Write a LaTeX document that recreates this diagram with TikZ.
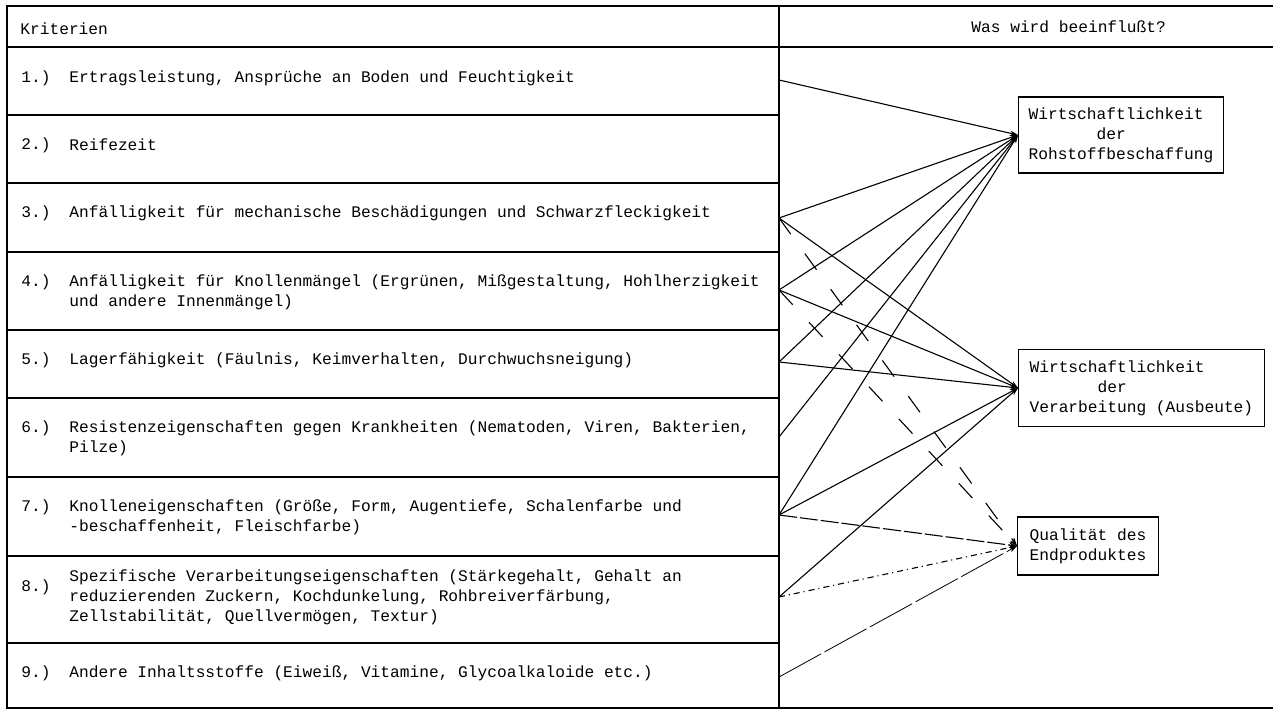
\documentclass[tikz,border=0pt]{standalone}
\usepackage{fontspec}
\setmonofont{Liberation Mono}
\usetikzlibrary{arrows.meta, positioning}

\tikzset{
  tabline/.style={line width=0.7pt},
  krit/.style={anchor=west, inner sep=0pt, align=left,
    font=\ttfamily\fontsize{8.1}{10}\selectfont},
  zielbox/.style={draw, line width=0.6pt, anchor=west, align=left,
    inner xsep=5pt, font=\ttfamily\fontsize{8.1}{10}\selectfont},
  pfeil/.style={-{Stealth[length=4pt,width=2.6pt]}, line width=0.55pt},
  langstrich/.style={pfeil, dash pattern=on 10pt off 12pt}
}

\begin{document}
\begin{tikzpicture}[x=0.5pt, y=-0.5pt]
\useasboundingbox (0,0) rectangle (1273,710);
\draw[tabline] (1273,6) -- (7,6) -- (7,708) -- (1273,708);
\draw[tabline] (7,47) -- (1273,47);
\draw[tabline] (779,6) -- (779,708);
\foreach \y in {115,183,252,330,398,477,556,643} {
  \draw[tabline] (7,\y) -- (779,\y);
}
\node[krit] (kopf) at (20,29) {Kriterien};
\node[krit] (frage) at (971,27) {Was wird beeinflußt?};
\foreach \i/\y in {1/78, 2/145, 3/213, 4/282, 5/360, 6/428, 7/507, 8/587, 9/673} {
  \node[krit] (n\i) at (21,\y) {\i.)};
}
\node[krit] (t1) at (69,78) {Ertragsleistung, Ansprüche an Boden und Feuchtigkeit};
\node[krit] (t2) at (69,145) {Reifezeit};
\node[krit] (t3) at (69,213) {Anfälligkeit für mechanische Beschädigungen und Schwarzfleckigkeit};
\node[krit] (t4) at (69,292) {Anfälligkeit für Knollenmängel (Ergrünen, Mißgestaltung, Hohlherzigkeit\\und andere Innenmängel)};
\node[krit] (t5) at (69,360) {Lagerfähigkeit (Fäulnis, Keimverhalten, Durchwuchsneigung)};
\node[krit] (t6) at (69,438) {Resistenzeigenschaften gegen Krankheiten (Nematoden, Viren, Bakterien,\\Pilze)};
\node[krit] (t7) at (69,517) {Knolleneigenschaften (Größe, Form, Augentiefe, Schalenfarbe und\\-beschaffenheit, Fleischfarbe)};
\node[krit] (t8) at (69,597) {Spezifische Verarbeitungseigenschaften (Stärkegehalt, Gehalt an\\reduzierenden Zuckern, Kochdunkelung, Rohbreiverfärbung,\\Zellstabilität, Quellvermögen, Textur)};
\node[krit] (t9) at (69,673) {Andere Inhaltsstoffe (Eiweiß, Vitamine, Glycoalkaloide etc.)};

\node[zielbox, minimum height=38pt] (rohstoff) at (1018,135)
  {Wirtschaftlichkeit\\\phantom{xxxxxxx}der\\Rohstoffbeschaffung};
\node[zielbox, inner xsep=5.5pt, minimum height=38.5pt] (verarb) at (1018,388)
  {Wirtschaftlichkeit\\\phantom{xxxxxxx}der\\Verarbeitung (Ausbeute)};
\node[zielbox, inner xsep=6pt, minimum height=29pt] (qual) at (1017,546)
  {Qualität des\\Endproduktes};

\foreach \i/\y in {1/80, 3/218, 4/290, 5/362, 6/437, 7/515, 8/597, 9/677} {
  \coordinate (k\i) at (779,\y);
}
\foreach \i in {1,3,4,5,6,7} {
  \draw[pfeil] (k\i) -- (rohstoff.west);
}
\foreach \i in {3,4,5,7,8} {
  \draw[pfeil] (k\i) -- (verarb.west);
}
\draw[langstrich] (k3) -- (qual.west);
\draw[langstrich] (k4) -- (qual.west);
\draw[pfeil, dash pattern=on 9pt off 1.5pt] (k7) -- (qual.west);
\draw[pfeil, dash dot] (k8) -- (qual.west);
\draw[pfeil, line width=0.4pt, dash pattern=on 24pt off 2pt] (k9) -- (qual.west);
\end{tikzpicture}
\end{document}
